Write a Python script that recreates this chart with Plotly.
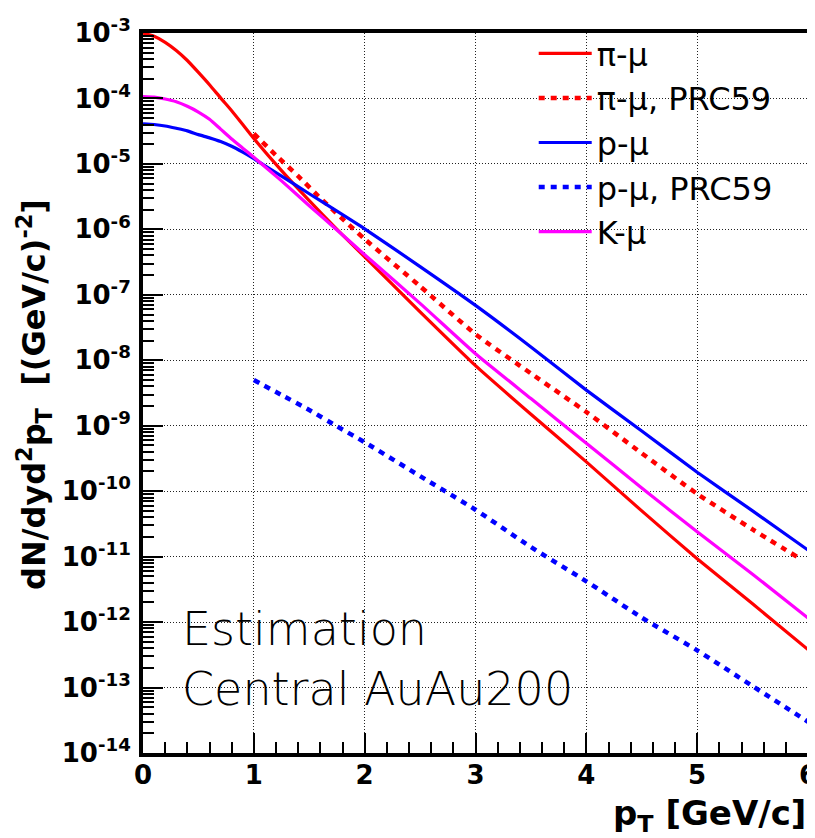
import plotly.graph_objects as go

# ---------------- data ----------------
pt_full = [0.0, 0.1, 0.2, 0.3, 0.4, 0.5, 0.6, 0.7, 0.8, 0.9, 1.0,
           1.25, 1.5, 1.75, 2.0, 2.5, 3.0, 3.5, 4.0, 4.5, 5.0, 5.5, 6.0]

pi_mu = [1.0e-3, 8.9e-4, 7.2e-4, 5.4e-4, 3.8e-4, 2.5e-4, 1.62e-4, 1.02e-4, 6.5e-5, 4.0e-5, 2.45e-5,
         7.9e-6, 2.75e-6, 1.0e-6, 3.8e-7, 5.5e-8, 8.3e-9, 1.5e-9, 2.8e-10, 5.0e-11, 9.3e-12, 1.9e-12, 3.8e-13]

k_mu = [1.07e-4, 1.05e-4, 9.8e-5, 8.9e-5, 7.6e-5, 6.2e-5, 4.8e-5, 3.4e-5, 2.4e-5, 1.74e-5, 1.26e-5,
        5.5e-6, 2.3e-6, 9.8e-7, 4.1e-7, 7.4e-8, 1.26e-8, 2.6e-9, 5.4e-10, 1.12e-10, 2.4e-11, 5.4e-12, 1.15e-12]

p_mu = [4.1e-5, 4.0e-5, 3.8e-5, 3.5e-5, 3.2e-5, 2.8e-5, 2.5e-5, 2.2e-5, 1.86e-5, 1.51e-5, 1.20e-5,
        6.5e-6, 3.5e-6, 1.9e-6, 1.02e-6, 2.7e-7, 6.9e-8, 1.6e-8, 3.5e-9, 8.3e-10, 1.95e-10, 5.0e-11, 1.26e-11]

pt_prc_pi = [1.0, 1.2, 1.4, 1.6, 1.8, 2.0, 2.5, 3.0, 3.5, 4.0, 4.5, 5.0, 5.5, 5.9]
pi_mu_prc59 = [2.9e-5, 1.35e-5, 6.5e-6, 3.0e-6, 1.45e-6, 7.1e-7, 1.35e-7, 2.5e-8, 6.3e-9,
               1.62e-9, 3.8e-10, 9.1e-11, 2.6e-11, 1.0e-11]

pt_prc_p = [1.0, 1.25, 1.5, 1.75, 2.0, 2.5, 3.0, 3.5, 4.0, 4.5, 5.0, 5.5, 6.0]
p_mu_prc59 = [5.0e-9, 2.95e-9, 1.74e-9, 9.8e-10, 5.6e-10, 1.7e-10, 5.2e-11, 1.4e-11,
              4.2e-12, 1.17e-12, 3.7e-13, 1.05e-13, 3.0e-14]

x_ticks = [0, 1, 2, 3, 4, 5, 6]
y_exponents = [-3, -4, -5, -6, -7, -8, -9, -10, -11, -12, -13, -14]

# ---------------- figure ----------------
RED = "#ff0000"
BLUE = "#0000ff"
MAG = "#ff00ff"
FONT = "DejaVu Sans, sans-serif"

L, R, T, B = 135, 6, 24, 93
W, H = 815, 838
PW, PH = W - L - R, H - T - B


def px(xp):
    return (xp - L) / PW


def py(yp):
    return 1 - (yp - T) / PH


fig = go.Figure()
series = [
    ("π-μ", pt_full, pi_mu, RED, "solid", 3.2),
    ("π-μ, PRC59", pt_prc_pi, pi_mu_prc59, RED, "6px,6px", 4.5),
    ("p-μ", pt_full, p_mu, BLUE, "solid", 3.2),
    ("p-μ, PRC59", pt_prc_p, p_mu_prc59, BLUE, "6px,6px", 4.5),
    ("K-μ", pt_full, k_mu, MAG, "solid", 3.2),
]
for i, (name, xs, ys, col, dash, w) in enumerate(series):
    fig.add_trace(go.Scatter(
        x=xs, y=ys, name=name, mode="lines",
        line=dict(color=col, dash=dash, width=w, shape="spline", smoothing=0.5),
        legendgroup=f"g{i}",
    ))

ytickvals = [10.0 ** e for e in y_exponents]
yticktext = [f"10<sup>{e}</sup>" for e in y_exponents]
yminor = [m * 10.0 ** e for e in range(-14, -3) for m in range(2, 10)]

axis_common = dict(
    showline=True, linewidth=4, linecolor="black", mirror=True,
    ticks="inside", tickwidth=2, tickcolor="black", ticklen=20,
    showgrid=True, gridcolor="#222222", gridwidth=1, griddash="1px,2px",
    zeroline=False,
    tickfont=dict(family=FONT, size=26, color="black", weight="bold"),
)

fig.update_xaxes(
    range=[0, 6], tickvals=x_ticks, ticktext=[str(v) for v in x_ticks],
    ticklabelstandoff=-4,
    minor=dict(dtick=0.2, ticks="inside", ticklen=11, tickwidth=2,
               tickcolor="black", showgrid=False),
    **axis_common,
)
fig.update_yaxes(
    type="log", range=[-14, -3], tickvals=ytickvals, ticktext=yticktext,
    ticklabelstandoff=3,
    minor=dict(tickvals=yminor, ticks="inside", ticklen=11, tickwidth=2,
               tickcolor="black", showgrid=False),
    **axis_common,
)

fig.update_layout(
    width=W, height=H,
    margin=dict(l=L, r=R, t=T, b=B),
    paper_bgcolor="white", plot_bgcolor="white",
    legend=dict(
        x=px(531), y=py(17), xanchor="left", yanchor="top",
        font=dict(family=FONT, size=32, color="black"),
        bgcolor="rgba(0,0,0,0)", borderwidth=0, tracegroupgap=0,
        itemwidth=53,
    ),
    showlegend=True,
)

# white legend box hiding the grid (as in the reference)
fig.add_shape(type="rect", xref="paper", yref="paper",
              x0=px(528), x1=px(795), y0=py(252), y1=py(30),
              fillcolor="white", line_width=0, layer="between")

# axis titles
fig.add_annotation(
    text="<b>dN/dyd<sup>2</sup>p<sub>T</sub>  [(GeV/c)<sup>-2</sup>]</b>",
    xref="paper", yref="paper", x=px(25), y=py(386),
    xanchor="center", yanchor="middle", textangle=-90, showarrow=False,
    font=dict(family=FONT, size=32, color="black"),
)
fig.add_annotation(
    text="<b>p<sub>T</sub> [GeV/c]</b>",
    xref="paper", yref="paper", x=px(809), y=py(808),
    xanchor="right", yanchor="middle", showarrow=False,
    font=dict(family=FONT, size=34, color="black"),
)

# in-plot label
fig.add_annotation(
    text="Estimation<br>Central AuAu200", xref="paper", yref="paper",
    x=px(172), y=py(651), xanchor="left", yanchor="middle", align="left",
    showarrow=False,
    font=dict(family="DejaVu Sans, sans-serif", size=46, color="black", weight=200),
)

fig.write_html("out.html")
